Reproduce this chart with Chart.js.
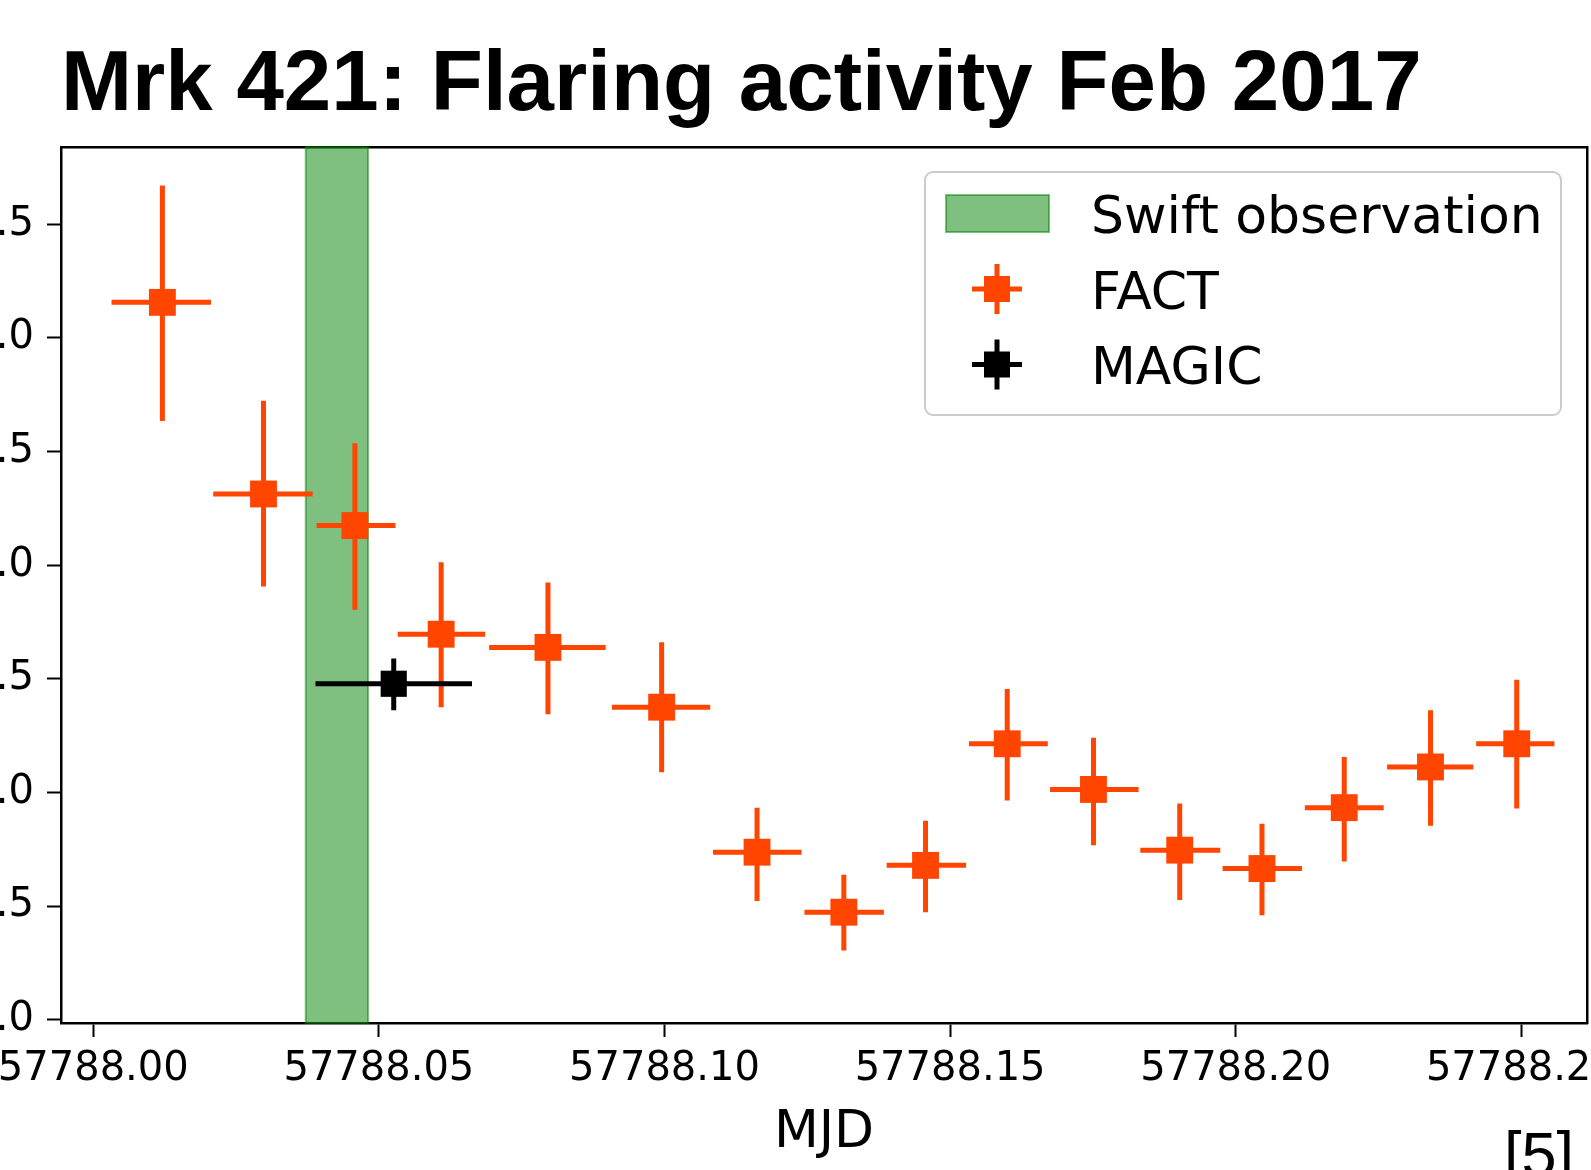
<!DOCTYPE html>
<html>
<head>
<meta charset="utf-8">
<script src="https://cdn.jsdelivr.net/npm/chart.js@4.4.0/dist/chart.umd.min.js"></script>
<style>
  html, body { margin: 0; padding: 0; background: #fff; }
  #page { position: relative; width: 1591px; height: 1170px; overflow: hidden; background: #fff; }
  #title { position: absolute; left: 61px; top: 38px; font: bold 85.3px "Liberation Sans", Arial, sans-serif; line-height: 1; white-space: nowrap; color: #000; }
  #ref { position: absolute; left: 1504px; top: 1123px; font: 63px "Liberation Sans", Arial, sans-serif; line-height: 1; color: #000; }
  #myChart { position: absolute; left: -100px; top: 0; }
</style>
</head>
<body>
<div id="page">
  <canvas id="myChart" width="1791" height="1170"></canvas>
  <div id="title">Mrk 421: Flaring activity Feb 2017</div>
  <div id="ref">[5]</div>
</div>
<script>
// FACT light curve (bins)
const factMjd   = [57788.0121, 57788.0298, 57788.0458, 57788.0609, 57788.0796, 57788.0995, 57788.1162, 57788.1314, 57788.1457, 57788.1600, 57788.1751, 57788.1902, 57788.2046, 57788.2190, 57788.2341, 57788.2492];
const factMjdLo = [57788.0032, 57788.0210, 57788.0391, 57788.0533, 57788.0693, 57788.0908, 57788.1085, 57788.1245, 57788.1389, 57788.1533, 57788.1675, 57788.1833, 57788.1977, 57788.2121, 57788.2265, 57788.2421];
const factMjdHi = [57788.0206, 57788.0384, 57788.0529, 57788.0686, 57788.0897, 57788.1080, 57788.1240, 57788.1384, 57788.1528, 57788.1671, 57788.1830, 57788.1973, 57788.2116, 57788.2259, 57788.2416, 57788.2558];
const factFlux   = [3.156, 2.313, 2.174, 1.696, 1.638, 1.375, 0.737, 0.473, 0.679, 1.214, 1.013, 0.746, 0.665, 0.933, 1.112, 1.214];
const factFluxLo = [2.634, 1.906, 1.804, 1.375, 1.344, 1.089, 0.522, 0.304, 0.473, 0.964, 0.768, 0.527, 0.460, 0.696, 0.853, 0.929];
const factFluxHi = [3.670, 2.723, 2.536, 2.013, 1.924, 1.661, 0.933, 0.638, 0.875, 1.455, 1.241, 0.951, 0.862, 1.156, 1.362, 1.496];

// MAGIC point
const magicMjd   = [57788.0526];
const magicMjdLo = [57788.0389];
const magicMjdHi = [57788.0663];
const magicFlux   = [1.478];
const magicFluxLo = [1.362];
const magicFluxHi = [1.589];

// Swift window
const swiftStart = [57788.0372];
const swiftEnd   = [57788.0481];
const swiftLabel = "Swift observation";

const xTickValues = [57788.00, 57788.05, 57788.10, 57788.15, 57788.20, 57788.25];
const yTickValues = [0.0, 0.5, 1.0, 1.5, 2.0, 2.5, 3.0, 3.5];

const FACT_COLOR = "#ff4500";
const MAGIC_COLOR = "#000000";
const SWIFT_FILL = "rgba(0, 128, 0, 0.5)";

Chart.defaults.font.family = "'DejaVu Sans', sans-serif";
Chart.defaults.color = "#000";

const toPoints = (xs, ys) => xs.map((v, i) => ({ x: v, y: ys[i] }));

function drawCross(ctx, x, y, arm, lw, size, color) {
  ctx.strokeStyle = color;
  ctx.lineWidth = lw;
  ctx.beginPath();
  ctx.moveTo(x - arm, y); ctx.lineTo(x + arm, y);
  ctx.moveTo(x, y - arm); ctx.lineTo(x, y + arm);
  ctx.stroke();
  ctx.fillStyle = color;
  ctx.fillRect(x - size / 2, y - size / 2, size, size);
}

const swiftBand = {
  id: "swiftBand",
  beforeDatasetsDraw(chart) {
    const { ctx, chartArea, scales: { x } } = chart;
    ctx.save();
    swiftStart.forEach((s, i) => {
      const x0 = x.getPixelForValue(s);
      const x1 = x.getPixelForValue(swiftEnd[i]);
      ctx.fillStyle = SWIFT_FILL;
      ctx.fillRect(x0, chartArea.top, x1 - x0, chartArea.height);
      ctx.strokeStyle = SWIFT_FILL;
      ctx.lineWidth = 2;
      ctx.strokeRect(x0, chartArea.top, x1 - x0, chartArea.height);
    });
    ctx.restore();
  }
};

const errorBars = {
  id: "errorBars",
  beforeDatasetDraw(chart, args) {
    const ds = chart.data.datasets[args.index];
    if (!ds.errors) return;
    const { ctx, scales: { x, y } } = chart;
    const e = ds.errors;
    ctx.save();
    ctx.strokeStyle = ds.backgroundColor;
    ctx.lineWidth = ds.errorWidth;
    ctx.beginPath();
    ds.data.forEach((p, i) => {
      const px = x.getPixelForValue(p.x);
      const py = y.getPixelForValue(p.y);
      ctx.moveTo(x.getPixelForValue(e.xLo[i]), py);
      ctx.lineTo(x.getPixelForValue(e.xHi[i]), py);
      ctx.moveTo(px, y.getPixelForValue(e.yLo[i]));
      ctx.lineTo(px, y.getPixelForValue(e.yHi[i]));
    });
    ctx.stroke();
    ctx.restore();
  }
};

const legendBox = {
  id: "legendBox",
  afterDatasetsDraw(chart) {
    const { ctx, chartArea } = chart;
    const w = 636, h = 243;
    const x0 = chartArea.right - 26 - w;
    const y0 = chartArea.top + 25;
    ctx.save();
    ctx.beginPath();
    ctx.roundRect(x0, y0, w, h, 8);
    ctx.fillStyle = "rgba(255,255,255,0.8)";
    ctx.fill();
    ctx.strokeStyle = "#cccccc";
    ctx.lineWidth = 2;
    ctx.stroke();

    const rowY = i => y0 + 41.5 + 75.5 * i;
    // swift patch
    ctx.fillStyle = SWIFT_FILL;
    ctx.fillRect(x0 + 21, rowY(0) - 18.5, 103, 37);
    ctx.strokeStyle = SWIFT_FILL;
    ctx.lineWidth = 2;
    ctx.strokeRect(x0 + 21, rowY(0) - 18.5, 103, 37);

    const labels = [swiftLabel];
    chart.data.datasets.forEach((ds, i) => {
      labels.push(ds.label);
      drawCross(ctx, x0 + 72, rowY(i + 1), 25, ds.errorWidth, 26, ds.backgroundColor);
    });

    ctx.fillStyle = "#000";
    ctx.font = "52px 'DejaVu Sans'";
    ctx.textBaseline = "alphabetic";
    ctx.textAlign = "left";
    labels.forEach((t, i) => ctx.fillText(t, x0 + 166, rowY(i) + 19.5));
    ctx.restore();
  }
};

const ctx = document.getElementById("myChart").getContext("2d");

const myChart = new Chart(ctx, {
  type: "scatter",
  data: {
    datasets: [
      {
        label: "FACT",
        data: toPoints(factMjd, factFlux),
        errors: { xLo: factMjdLo, xHi: factMjdHi, yLo: factFluxLo, yHi: factFluxHi },
        errorWidth: 5,
        backgroundColor: FACT_COLOR,
        borderWidth: 0,
        pointStyle: "rect",
        pointRadius: 19,
        order: 1
      },
      {
        label: "MAGIC",
        data: toPoints(magicMjd, magicFlux),
        errors: { xLo: magicMjdLo, xHi: magicMjdHi, yLo: magicFluxLo, yHi: magicFluxHi },
        errorWidth: 5,
        backgroundColor: MAGIC_COLOR,
        borderWidth: 0,
        pointStyle: "rect",
        pointRadius: 18.5,
        order: 0
      }
    ]
  },
  options: {
    responsive: false,
    animation: false,
    layout: { padding: { top: 147, right: 104, bottom: 0, left: 0 } },
    plugins: { legend: { display: false }, tooltip: { enabled: false } },
    scales: {
      x: {
        type: "linear",
        position: "bottom",
        min: 57787.99435,
        max: 57788.2615,
        afterBuildTicks: s => { s.ticks = xTickValues.map(v => ({ value: v })); },
        afterFit: s => { s.height = 147; },
        ticks: { font: { size: 40 }, padding: 9, maxRotation: 0, autoSkip: false, callback: v => v.toFixed(2) },
        grid: { drawOnChartArea: false, drawTicks: true, tickLength: 14, tickWidth: 2, tickColor: "#000", color: "#000" },
        border: { display: true, color: "#000", width: 2.5 },
        title: { display: true, text: "MJD", font: { size: 52 }, padding: { top: 0, bottom: 5 } }
      },
      y: {
        type: "linear",
        position: "left",
        min: -0.0145,
        max: 3.8395,
        afterBuildTicks: s => { s.ticks = yTickValues.map(v => ({ value: v })); },
        afterFit: s => { s.width = 161; },
        ticks: { font: { size: 40 }, padding: 13, callback: v => v.toFixed(1) },
        grid: { drawOnChartArea: false, drawTicks: true, tickLength: 14, tickWidth: 2, tickColor: "#000", color: "#000" },
        border: { display: true, color: "#000", width: 2.5 }
      },
      x2: {
        type: "linear",
        position: "top",
        ticks: { display: false },
        grid: { display: false, drawTicks: false },
        border: { display: true, color: "#000", width: 2.5 },
        afterFit: s => { s.height = 0; }
      },
      y2: {
        type: "linear",
        position: "right",
        ticks: { display: false },
        grid: { display: false, drawTicks: false },
        border: { display: true, color: "#000", width: 2.5 },
        afterFit: s => { s.width = 0; }
      }
    }
  },
  plugins: [swiftBand, errorBars, legendBox]
});
</script>
</body>
</html>
